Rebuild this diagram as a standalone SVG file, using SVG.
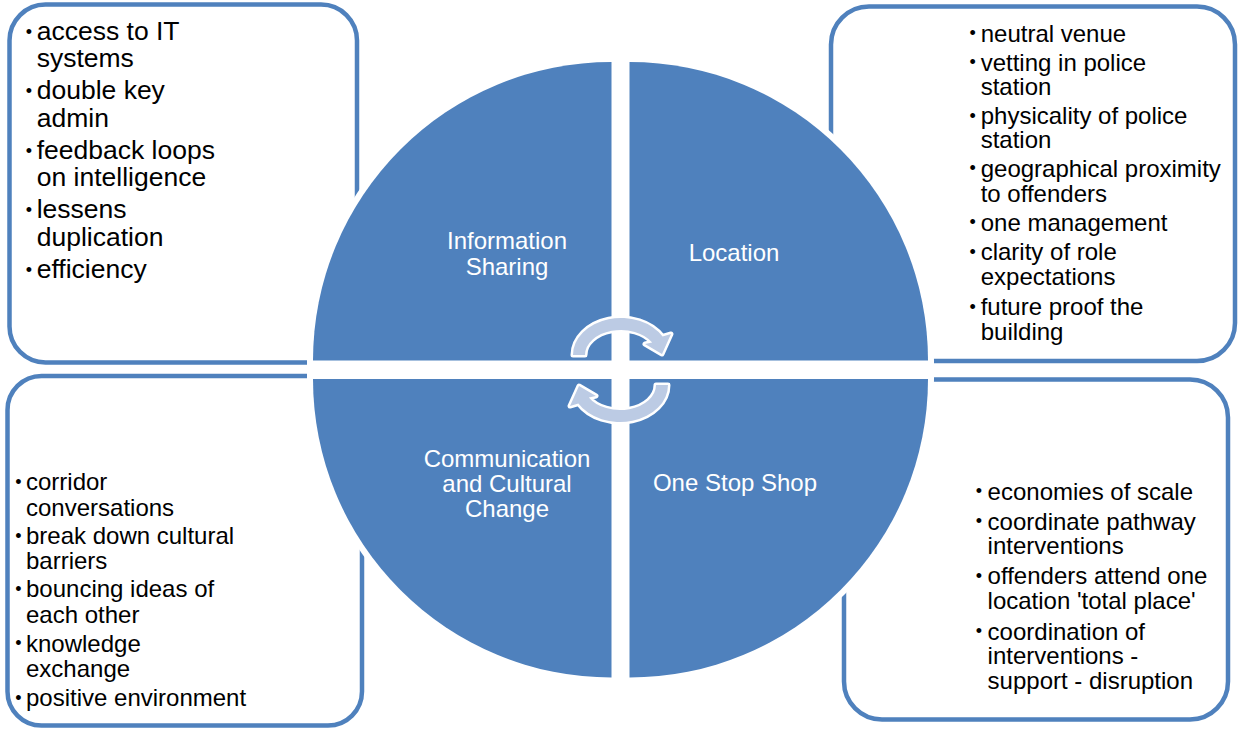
<svg xmlns="http://www.w3.org/2000/svg" width="1239" height="729" viewBox="0 0 1239 729">
<style>
.box{fill:#fff;stroke:#4F81BD;stroke-width:4.5}
.quad{fill:#4F81BD;stroke:#fff;stroke-width:12;paint-order:stroke fill}
.arrow{fill:#BCCBE4;stroke:#fff;stroke-width:5;paint-order:stroke fill;stroke-linejoin:round}
.lbl{font-family:"Liberation Sans",Arial,sans-serif;font-size:24px;fill:#fff;text-anchor:middle}
.t{font-family:"Liberation Sans",Arial,sans-serif;font-size:24px;fill:#000}
.t26{font-size:26.5px}
.b{font-family:"Liberation Sans",Arial,sans-serif;font-size:18px;fill:#000;text-anchor:middle}
</style>
<rect width="1239" height="729" fill="#fff"/>

<g id="box-information-sharing">
<rect class="box" x="9.5" y="4.5" width="347.5" height="358" rx="36"/>
</g>
<g id="box-location">
<rect class="box" x="831" y="6.5" width="404" height="354.5" rx="38"/>
</g>
<g id="box-communication">
<rect class="box" x="7.5" y="376" width="354.5" height="349.5" rx="34"/>
</g>
<g id="box-one-stop-shop">
<rect class="box" x="844" y="379.5" width="384" height="340" rx="38"/>
</g>

<g id="quad-information-sharing">
<path class="quad" d="M611.5 360.5 L313 360.5 A298.5 298.5 0 0 1 611.5 62 Z"/>
<text class="lbl" x="507" y="249">Information</text>
<text class="lbl" x="507" y="275">Sharing</text>
</g>
<g id="quad-location">
<path class="quad" d="M629.5 360.5 L629.5 62 A298.5 298.5 0 0 1 928 360.5 Z"/>
<text class="lbl" x="734" y="261">Location</text>
</g>
<g id="quad-communication">
<path class="quad" d="M611.5 379 L611.5 677.5 A298.5 298.5 0 0 1 313 379 Z"/>
<text class="lbl" x="507" y="467">Communication</text>
<text class="lbl" x="507" y="492">and Cultural</text>
<text class="lbl" x="507" y="517">Change</text>
</g>
<g id="quad-one-stop-shop">
<path class="quad" d="M629.5 379 L928 379 A298.5 298.5 0 0 1 629.5 677.5 Z"/>
<text class="lbl" x="735" y="491">One Stop Shop</text>
</g>

<g id="connectors">
<path class="arrow" d="M573 355 A48 37 0 0 1 662.6 336.5 L671 334 L662 354 L645 344 L652.2 342.5 A36 25 0 0 0 585 355 Z"/>
<path class="arrow" d="M668 385 A48 37 0 0 1 578.4 403.5 L570 406 L579 386 L596 396 L588.8 397.5 A36 25 0 0 0 656 385 Z"/>
</g>

<g id="text-information-sharing">
<text class="b" x="29" y="37.5">•</text><text class="t t26" x="36.7" y="40">access to IT</text>
<text class="t t26" x="36.7" y="66.7">systems</text>
<text class="b" x="29" y="96.8">•</text><text class="t t26" x="36.7" y="99.3">double key</text>
<text class="t t26" x="36.7" y="126.7">admin</text>
<text class="b" x="29" y="156.8">•</text><text class="t t26" x="36.7" y="159.3">feedback loops</text>
<text class="t t26" x="36.7" y="186">on intelligence</text>
<text class="b" x="29" y="215.8">•</text><text class="t t26" x="36.7" y="218.3">lessens</text>
<text class="t t26" x="36.7" y="246">duplication</text>
<text class="b" x="29" y="275.8">•</text><text class="t t26" x="36.7" y="278.3">efficiency</text>
</g>

<g id="text-location">
<text class="b" x="972.7" y="39.2">•</text><text class="t" x="980.7" y="41.7">neutral venue</text>
<text class="b" x="972.7" y="68.2">•</text><text class="t" x="980.7" y="70.7">vetting in police</text>
<text class="t" x="980.7" y="95">station</text>
<text class="b" x="972.7" y="121.5">•</text><text class="t" x="980.7" y="124">physicality of police</text>
<text class="t" x="980.7" y="148.3">station</text>
<text class="b" x="972.7" y="174.2">•</text><text class="t" x="980.7" y="176.7">geographical proximity</text>
<text class="t" x="980.7" y="201.7">to offenders</text>
<text class="b" x="972.7" y="228.2">•</text><text class="t" x="980.7" y="230.7">one management</text>
<text class="b" x="972.7" y="257.5">•</text><text class="t" x="980.7" y="260">clarity of role</text>
<text class="t" x="980.7" y="285">expectations</text>
<text class="b" x="972.7" y="312.5">•</text><text class="t" x="980.7" y="315">future proof the</text>
<text class="t" x="980.7" y="340">building</text>
</g>

<g id="text-communication">
<text class="b" x="18.3" y="487.5">•</text><text class="t" x="26" y="490">corridor</text>
<text class="t" x="26" y="516">conversations</text>
<text class="b" x="18.3" y="541.5">•</text><text class="t" x="26" y="544">break down cultural</text>
<text class="t" x="26" y="569.3">barriers</text>
<text class="b" x="18.3" y="594.8">•</text><text class="t" x="26" y="597.3">bouncing ideas of</text>
<text class="t" x="26" y="623.3">each other</text>
<text class="b" x="18.3" y="649.2">•</text><text class="t" x="26" y="651.7">knowledge</text>
<text class="t" x="26" y="676.7">exchange</text>
<text class="b" x="18.3" y="703.5">•</text><text class="t" x="26" y="706">positive environment</text>
</g>

<g id="text-one-stop-shop">
<text class="b" x="979" y="497.2">•</text><text class="t" x="987.6" y="499.7">economies of scale</text>
<text class="b" x="979" y="527">•</text><text class="t" x="987.6" y="529.5">coordinate pathway</text>
<text class="t" x="987.6" y="554.2">interventions</text>
<text class="b" x="979" y="581.9">•</text><text class="t" x="987.6" y="584.4">offenders attend one</text>
<text class="t" x="987.6" y="609.2">location 'total place'</text>
<text class="b" x="979" y="637.2">•</text><text class="t" x="987.6" y="639.7">coordination of</text>
<text class="t" x="987.6" y="664">interventions -</text>
<text class="t" x="987.6" y="688.8">support - disruption</text>
</g>
</svg>
